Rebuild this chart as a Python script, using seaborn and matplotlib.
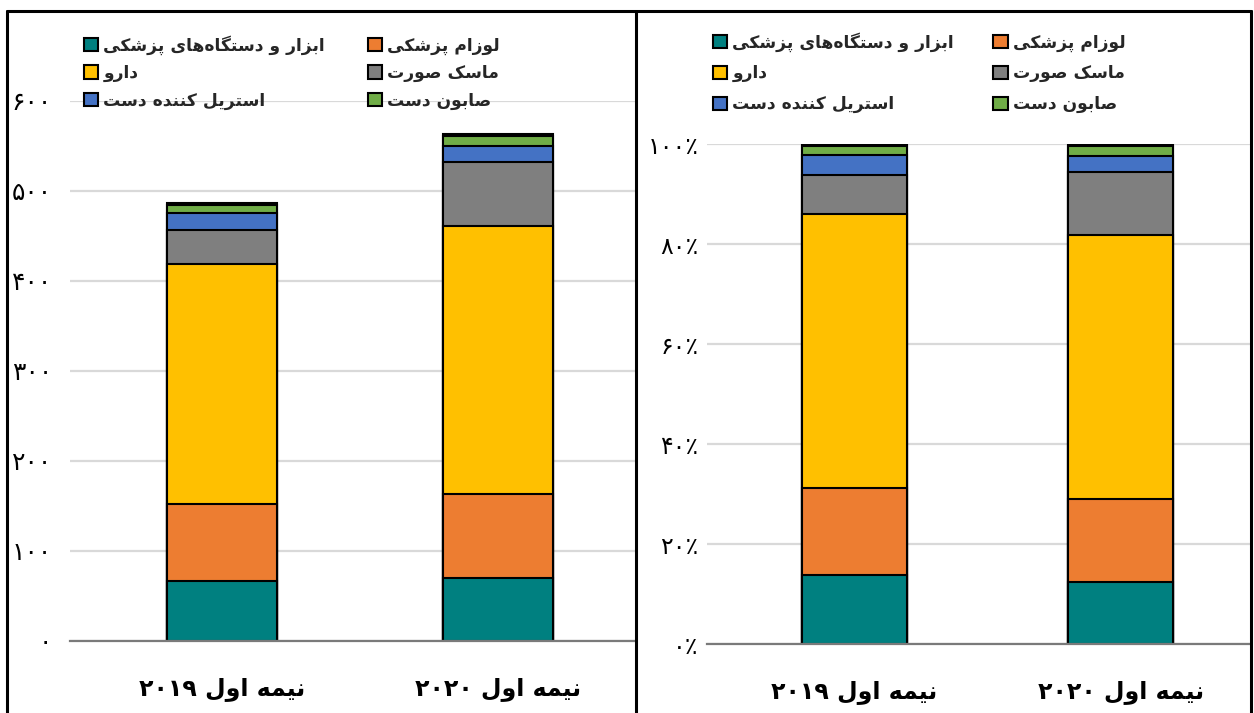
import matplotlib
matplotlib.use("Agg")
import matplotlib.pyplot as plt
from matplotlib.patches import Patch
from matplotlib.lines import Line2D
import seaborn as sns
import pandas as pd
import numpy as np

# ---------------- data ----------------
categories = ['نیمه اول ۲۰۱۹', 'نیمه اول ۲۰۲۰']
series_names = ['ابزار و دستگاه‌های پزشکی', 'لوزام پزشکی', 'دارو',
                'ماسک صورت', 'استریل کننده دست', 'صابون دست', 'سایر']
tools = [67, 70]
supplies = [85, 93]
drugs = [267, 298]
masks = [38, 71]
sterilizer = [19, 18]
soap = [9, 11]
other = [2, 2]
series_values = [tools, supplies, drugs, masks, sterilizer, soap, other]
colors = ['#008080', '#ED7D31', '#FFC000', '#7F7F7F', '#4472C4', '#70AD47', '#C00000']
left_ticks = [0, 100, 200, 300, 400, 500, 600]
right_ticks = [0, 20, 40, 60, 80, 100]
legend_order = [0, 2, 4, 1, 3, 5]

# ---------------- Persian shaping ----------------
DUAL = {
    'ب': ('\uFE8F', '\uFE90', '\uFE91', '\uFE92'),
    'پ': ('\uFB56', '\uFB57', '\uFB58', '\uFB59'),
    'ت': ('\uFE95', '\uFE96', '\uFE97', '\uFE98'),
    'س': ('\uFEB1', '\uFEB2', '\uFEB3', '\uFEB4'),
    'ش': ('\uFEB5', '\uFEB6', '\uFEB7', '\uFEB8'),
    'ص': ('\uFEB9', '\uFEBA', '\uFEBB', '\uFEBC'),
    'ک': ('\uFB8E', '\uFB8F', '\uFB90', '\uFB91'),
    'گ': ('\uFB92', '\uFB93', '\uFB94', '\uFB95'),
    'ل': ('\uFEDD', '\uFEDE', '\uFEDF', '\uFEE0'),
    'م': ('\uFEE1', '\uFEE2', '\uFEE3', '\uFEE4'),
    'ن': ('\uFEE5', '\uFEE6', '\uFEE7', '\uFEE8'),
    'ه': ('\uFEE9', '\uFEEA', '\uFEEB', '\uFEEC'),
    'ی': ('\uFBFC', '\uFBFD', '\uFBFE', '\uFBFF'),
}
RIGHT = {
    'ا': ('\uFE8D', '\uFE8E'),
    'د': ('\uFEA9', '\uFEAA'),
    'ر': ('\uFEAD', '\uFEAE'),
    'ز': ('\uFEAF', '\uFEB0'),
    'ژ': ('\uFB8A', '\uFB8B'),
    'و': ('\uFEED', '\uFEEE'),
}


def shape(s):
    out = []
    n = len(s)
    for i, c in enumerate(s):
        if c in DUAL or c in RIGHT:
            prev = s[i - 1] if i > 0 else ''
            nxt = s[i + 1] if i < n - 1 else ''
            jp = prev in DUAL
            jn = (c in DUAL) and (nxt in DUAL or nxt in RIGHT)
            if c in RIGHT:
                out.append(RIGHT[c][1] if jp else RIGHT[c][0])
            else:
                f = DUAL[c]
                out.append(f[3] if (jp and jn) else f[2] if jn else f[1] if jp else f[0])
        elif c == '\u200c':
            continue
        else:
            out.append(c)
    return out


def rtl(s):
    chars = shape(s)[::-1]
    res, run = [], []
    for c in chars:
        if c.isdigit():
            run.append(c)
        else:
            res.extend(run[::-1])
            run = []
            res.append(c)
    res.extend(run[::-1])
    return ''.join(res)


FA = str.maketrans('0123456789', '۰۱۲۳۴۵۶۷۸۹')


def fa(v):
    return str(v).translate(FA)


# ---------------- figure ----------------
sns.set_theme(style="white")
plt.rcParams['font.family'] = ['DejaVu Sans']

W, H = 1254, 713
fig = plt.figure(figsize=(W / 100, H / 100), dpi=100)


def px_axes(l, r, t, b):
    return fig.add_axes([l / W, 1 - b / H, (r - l) / W, (b - t) / H])


ax1 = px_axes(70, 636, 101, 641)
ax2 = px_axes(707, 1251, 144, 644)

vals = np.array(series_values, dtype=float)
totals = vals.sum(axis=0)
pct = vals / totals * 100

for ax, data, width in [(ax1, vals, 0.40), (ax2, pct, 0.395)]:
    cum = np.cumsum(data, axis=0)
    for k in range(len(series_names) - 1, -1, -1):
        df = pd.DataFrame({'cat': categories, 'v': cum[k]})
        sns.barplot(data=df, x='cat', y='v', ax=ax, color=colors[k],
                    saturation=1, width=width, edgecolor='black',
                    linewidth=1.5, zorder=3)
    for sp in ['left', 'right', 'top']:
        ax.spines[sp].set_visible(False)
    ax.spines['bottom'].set_color('#7a7a7a')
    ax.spines['bottom'].set_linewidth(1.6)
    ax.spines['bottom'].set_zorder(4)
    ax.set_xlabel('')
    ax.set_ylabel('')
    ax.grid(axis='y', color='#D9D9D9', linewidth=1.6, zorder=0)
    ax.tick_params(axis='both', length=0)
    ax.set_xticks([0, 1])
    ax.set_xticklabels([rtl(c) for c in categories], fontsize=17,
                       fontweight='bold', color='black')
    ax.tick_params(axis='x', pad=26)

ax1.set_xlim(-0.551, 1.5)
ax1.set_ylim(0, 600)
ax1.set_yticks(left_ticks)
ax1.set_yticklabels([fa(t) for t in left_ticks], fontsize=18, color='black')
ax1.tick_params(axis='y', pad=13)

ax2.set_xlim(-0.5545, 1.49)
ax2.set_ylim(0, 100)
ax2.set_yticks(right_ticks)
ax2.set_yticklabels([fa(t) + '٪' for t in right_ticks], fontsize=17, color='black')
ax2.tick_params(axis='y', pad=6)

handles = [Patch(facecolor=colors[i], edgecolor='black', linewidth=1.5) for i in legend_order]
labels = [rtl(series_names[i]) for i in legend_order]
for x0, y0, ls, cs in [(77, 28, 0.55, 2.5), (706, 25, 0.75, 2.3)]:
    fig.legend(handles, labels, loc='upper left',
               bbox_to_anchor=(x0 / W, 1 - y0 / H), ncol=2, frameon=False,
               prop={'weight': 'bold', 'size': 12.3}, handlelength=0.85,
               handleheight=0.85, handletextpad=0.3, columnspacing=cs,
               labelspacing=ls, borderaxespad=0)

# panel frames
lw = 2.2
fig.add_artist(Line2D([7 / W, 1251 / W], [1 - 11 / H, 1 - 11 / H], color='black', lw=lw, transform=fig.transFigure))
for xp in [7, 636, 1251]:
    fig.add_artist(Line2D([xp / W, xp / W], [0, 1 - 11 / H], color='black', lw=lw, transform=fig.transFigure))

fig.savefig('out.png', dpi=100)
